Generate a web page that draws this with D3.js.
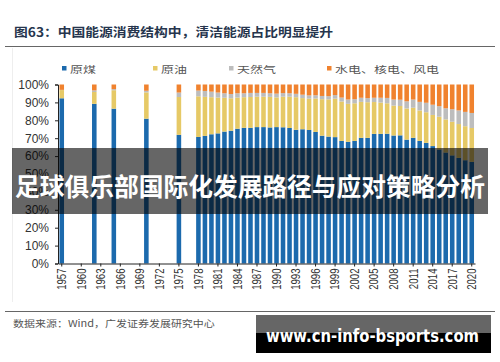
<!DOCTYPE html>
<meta charset="utf-8">
<script src="https://d3js.org/d3.v7.min.js"></script>
<style>
  body { margin: 0; background: #fff; }
</style>
<div id="my_dataviz"></div>
<script>

// years that have a bar
var years = [1957, 1962, 1965, 1970, 1975,
  1978, 1979, 1980, 1981, 1982, 1983, 1984, 1985, 1986, 1987, 1988, 1989,
  1990, 1991, 1992, 1993, 1994, 1995, 1996, 1997, 1998, 1999,
  2000, 2001, 2002, 2003, 2004, 2005, 2006, 2007, 2008, 2009,
  2010, 2011, 2012, 2013, 2014, 2015, 2016, 2017, 2018, 2019, 2020];

// share of total energy consumption, %
var coal  = [92.3, 89.2, 86.5, 80.9, 71.9,
  70.7, 71.3, 72.2, 72.7, 73.7, 74.2, 75.3, 75.8, 75.8, 76.2, 76.2, 76.0,
  76.2, 76.1, 75.7, 74.7, 75.0, 74.6, 73.5, 71.4, 70.9, 70.6,
  68.5, 68.0, 68.5, 70.2, 70.2, 72.4, 72.4, 72.5, 71.5, 71.6,
  69.2, 70.2, 68.5, 67.4, 65.6, 63.7, 62.0, 60.4, 59.0, 57.7, 56.8];
var oil   = [4.6, 6.6, 10.3, 14.7, 21.1,
  22.7, 21.8, 20.7, 20.0, 18.9, 18.1, 17.4, 17.1, 17.2, 17.0, 17.0, 17.1,
  16.6, 17.1, 17.5, 18.2, 17.4, 17.5, 18.7, 20.4, 20.8, 21.5,
  22.0, 21.2, 21.0, 20.1, 19.9, 17.8, 17.5, 17.0, 16.7, 16.4,
  17.4, 16.8, 17.0, 17.1, 17.4, 18.3, 18.5, 18.8, 18.9, 19.0, 18.9];
var gas   = [0.1, 0.9, 0.6, 0.9, 2.5,
  3.2, 3.3, 3.1, 2.8, 2.5, 2.4, 2.4, 2.2, 2.3, 2.1, 2.1, 2.0,
  2.1, 2.0, 1.9, 1.9, 1.9, 1.8, 1.8, 1.8, 1.8, 2.0,
  2.2, 2.4, 2.3, 2.3, 2.3, 2.4, 2.7, 3.0, 3.4, 3.5,
  4.0, 4.6, 4.8, 5.3, 5.7, 5.9, 6.2, 7.0, 7.6, 8.0, 8.4];
var clean = [3.0, 3.3, 2.6, 3.5, 4.5,
  3.4, 3.6, 4.0, 4.5, 4.9, 5.3, 4.9, 4.9, 4.7, 4.7, 4.7, 4.9,
  5.1, 4.8, 4.9, 5.2, 5.7, 6.1, 6.0, 6.4, 6.5, 5.9,
  7.3, 8.4, 8.2, 7.4, 7.6, 7.4, 7.4, 7.5, 8.4, 8.5,
  9.4, 8.4, 9.7, 10.2, 11.3, 12.1, 13.3, 13.8, 14.5, 15.3, 15.9];

var seriesNames = ["原煤", "原油", "天然气", "水电、核电、风电"];
var seriesKeys = ["coal", "oil", "gas", "clean"];
var colors = ["#1c6aad", "#e6c966", "#bdbdbd", "#f0822e"];
var yTicks = [0, 10, 20, 30, 40, 50, 60, 70, 80, 90, 100];

var width = 500, height = 362;
var svg = d3.select("#my_dataviz")
  .append("svg")
    .attr("width", width)
    .attr("height", height);

var cjk = "'Noto Sans CJK SC', sans-serif";
var latin = "'Liberation Sans', Arial, sans-serif";

// title + rules
svg.append("text")
  .attr("transform", "translate(14,37) scale(1,0.85)")
  .attr("font-family", cjk)
  .attr("font-weight", 700)
  .attr("font-size", 14.5)
  .attr("fill", "#26354d")
  .attr("textLength", 319)
  .attr("lengthAdjust", "spacingAndGlyphs")
  .text("图63：中国能源消费结构中，清洁能源占比明显提升");

svg.append("line").attr("x1", 5).attr("x2", 495).attr("y1", 46.5).attr("y2", 46.5)
  .attr("stroke", "#666").attr("stroke-width", 1);
svg.append("line").attr("x1", 5).attr("x2", 495).attr("y1", 311.5).attr("y2", 311.5)
  .attr("stroke", "#666").attr("stroke-width", 1);
svg.append("line").attr("x1", 12.5).attr("x2", 12.5).attr("y1", 48).attr("y2", 302)
  .attr("stroke", "#eee");

// scales
var x = d3.scaleBand()
  .domain(d3.range(1957, 2021))
  .range([58.5, 475])
  .paddingInner(0.3)
  .paddingOuter(0.15);

var y = d3.scaleLinear()
  .domain([0, 100])
  .range([263.5, 84.5]);

// stacked data
var rows = years.map(function(yr, i) {
  return {year: yr, coal: coal[i], oil: oil[i], gas: gas[i], clean: clean[i]};
});
var stacked = d3.stack().keys(seriesKeys)(rows);

svg.append("g")
  .selectAll("g")
  .data(stacked)
  .enter()
  .append("g")
    .attr("fill", function(d, i) { return colors[i]; })
  .selectAll("rect")
  .data(function(d) { return d; })
  .enter()
  .append("rect")
    .attr("x", function(d) { return x(d.data.year); })
    .attr("width", x.bandwidth())
    .attr("y", function(d) { return y(Math.min(d[1], 100)); })
    .attr("height", function(d) { return y(d[0]) - y(Math.min(d[1], 100)); });

// y axis
var yAxis = svg.append("g")
  .attr("transform", "translate(58,0)")
  .call(d3.axisLeft(y).tickValues(yTicks).tickSize(3).tickPadding(6)
    .tickFormat(function(d) { return d + "%"; }));
yAxis.select(".domain").attr("stroke", "#222");
yAxis.selectAll(".tick line").attr("stroke", "#222");
yAxis.selectAll("text")
  .attr("font-family", latin)
  .attr("font-size", 12)
  .attr("fill", "#333");

// x axis
var xTickYears = d3.range(1957, 2021, 3);
var xAxis = svg.append("g")
  .attr("transform", "translate(0,263.5)")
  .call(d3.axisBottom(x).tickValues(xTickYears).tickSize(3).tickSizeOuter(0));
xAxis.select(".domain").attr("stroke", "#222");
xAxis.selectAll(".tick line").attr("stroke", "#222");
xAxis.selectAll("text")
  .attr("font-family", latin)
  .attr("font-size", 12)
  .attr("fill", "#333")
  .attr("y", 0)
  .attr("dy", "0.36em")
  .attr("text-anchor", "end")
  .attr("transform", "translate(0,5) scale(1,0.8) rotate(-90)");

// legend
var legendX = [62, 153, 229, 327];
var legend = svg.append("g")
  .selectAll("g")
  .data(seriesNames)
  .enter()
  .append("g")
    .attr("transform", function(d, i) { return "translate(" + legendX[i] + ",66)"; });
legend.append("rect")
  .attr("width", 4.5).attr("height", 4.5)
  .attr("fill", function(d, i) { return colors[i]; });
legend.append("text")
  .attr("transform", "translate(8,6.5) scale(1,0.72)")
  .attr("font-family", cjk)
  .attr("font-size", 13)
  .attr("fill", "#555")
  .text(function(d) { return d; });

// source
svg.append("text")
  .attr("transform", "translate(13,327) scale(1,0.85)")
  .attr("font-family", cjk)
  .attr("font-size", 11)
  .attr("fill", "#555")
  .text("数据来源：Wind，广发证券发展研究中心");

// overlay banner
svg.append("rect")
  .attr("x", 12).attr("y", 148).attr("width", 476).attr("height", 66)
  .attr("fill", "rgba(0,0,0,0.6)");
svg.append("text")
  .attr("x", 250).attr("y", 196)
  .attr("text-anchor", "middle")
  .attr("font-family", cjk)
  .attr("font-weight", 700)
  .attr("font-size", 25)
  .attr("fill", "#fff")
  .attr("textLength", 470)
  .attr("lengthAdjust", "spacingAndGlyphs")
  .text("足球俱乐部国际化发展路径与应对策略分析");

// watermark
svg.append("rect").attr("x", 256).attr("y", 315).attr("width", 235).attr("height", 19).attr("fill", "#666");
svg.append("rect").attr("x", 256).attr("y", 333).attr("width", 235).attr("height", 20).attr("fill", "#000");
svg.append("text")
  .attr("x", 266).attr("y", 342)
  .attr("font-family", "'DejaVu Sans', sans-serif")
  .attr("font-weight", 700)
  .attr("font-size", 17)
  .attr("fill", "#fff")
  .attr("textLength", 213)
  .attr("lengthAdjust", "spacingAndGlyphs")
  .text("www.cn-info-bsports.com");

</script>
